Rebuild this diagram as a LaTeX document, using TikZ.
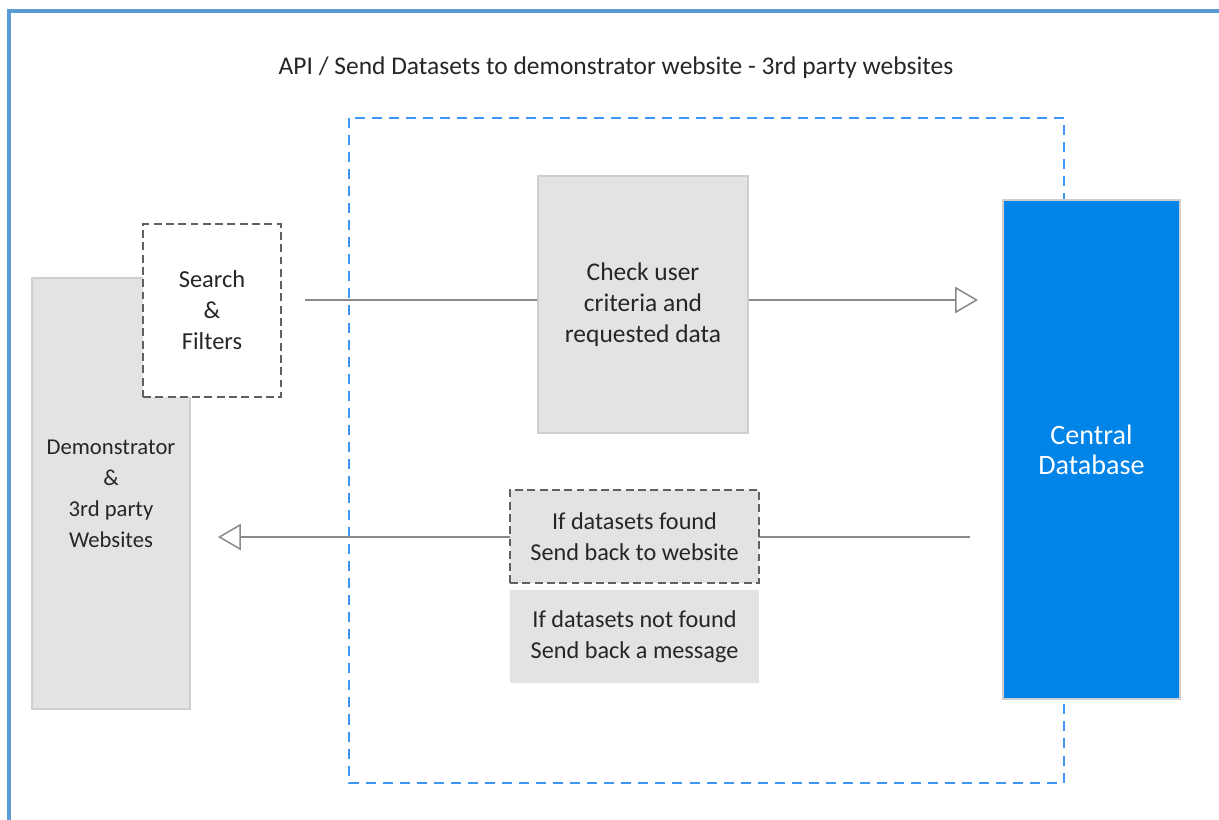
\documentclass[tikz,border=0pt]{standalone}
\usepackage{fontspec}
\setmainfont{Carlito}
\usetikzlibrary{arrows.meta}
\definecolor{frameblue}{HTML}{5B9BD5}
\definecolor{dashblue}{HTML}{3D95F5}
\definecolor{dbblue}{HTML}{0084E8}
\definecolor{boxgray}{HTML}{E3E3E3}
\definecolor{boxline}{HTML}{CFCFCF}
\definecolor{dashgray}{HTML}{606060}
\definecolor{linegray}{HTML}{8A8A8A}
\definecolor{textdark}{HTML}{262626}
\tikzset{
  graybox/.style={rectangle, fill=boxgray, draw=boxline, line width=0.6pt, align=center, text=textdark, font=\fontsize{14.5}{17.6}\selectfont, inner sep=0pt},
  dashbox/.style={rectangle, draw=dashgray, line width=0.8pt, dash pattern=on 4.5pt off 2.5pt, align=center, text=textdark, font=\fontsize{14.5}{17.6}\selectfont, inner sep=0pt},
  dbbox/.style={rectangle, fill=dbblue, draw=boxline, line width=0.6pt, align=center, text=white, font=\fontsize{16}{17.2}\selectfont, inner sep=0pt},
  flow/.style={draw=linegray, line width=0.85pt, -{Triangle[open, length=13pt, width=15pt, fill=white]}},
}
\begin{document}
\begin{tikzpicture}[x=0.02cm, y=-0.02cm]
\useasboundingbox (0,0) rectangle (1219,820);
% outer frame
\draw[frameblue, line width=1.9pt] (9,830) -- (9,11) -- (1230,11);
% title
\node[text=textdark, font=\fontsize{14.5}{17}\selectfont] (title) at (616,67.5) {API / Send Datasets to demonstrator website - 3rd party websites};
% dashed api region
\draw[dashblue, line width=1.1pt, dash pattern=on 5.7pt off 4pt] (349,118) rectangle (1064,783);
% connector coordinates
\coordinate (reqstart) at (305,300);
\coordinate (reqend) at (978,300);
\coordinate (respstart) at (970,537);
\coordinate (respend) at (218,537);
% connectors (behind boxes)
\draw[flow] (reqstart) -- (reqend);
\draw[flow] (respstart) -- (respend);
% boxes
\node[graybox, font=\fontsize{12.9}{17.6}\selectfont, minimum width=158*0.02cm, minimum height=431*0.02cm] (demo) at (111,493.5) {Demonstrator\\\&\\3rd party\\Websites};
\node[dashbox, fill=white, font=\fontsize{13.9}{17.6}\selectfont, minimum width=138*0.02cm, minimum height=173*0.02cm] (search) at (212,310.5) {Search\\\&\\Filters};
\node[graybox, minimum width=210*0.02cm, minimum height=257*0.02cm] (check) at (643,304.5) {Check user\\criteria and\\requested data};
\node[dashbox, fill=boxgray, font=\fontsize{13.8}{17.6}\selectfont, minimum width=249*0.02cm, minimum height=93*0.02cm] (found) at (634.5,536.5) {If datasets found\\Send back to website};
\node[graybox, draw=none, font=\fontsize{13.8}{17.6}\selectfont, minimum width=249*0.02cm, minimum height=93*0.02cm] (notfound) at (634.5,636.5) {If datasets not found\\Send back a message};
\node[dbbox, minimum width=177*0.02cm, minimum height=499*0.02cm] (db) at (1091.5,449.5) {Central\\Database};
\end{tikzpicture}
\end{document}
